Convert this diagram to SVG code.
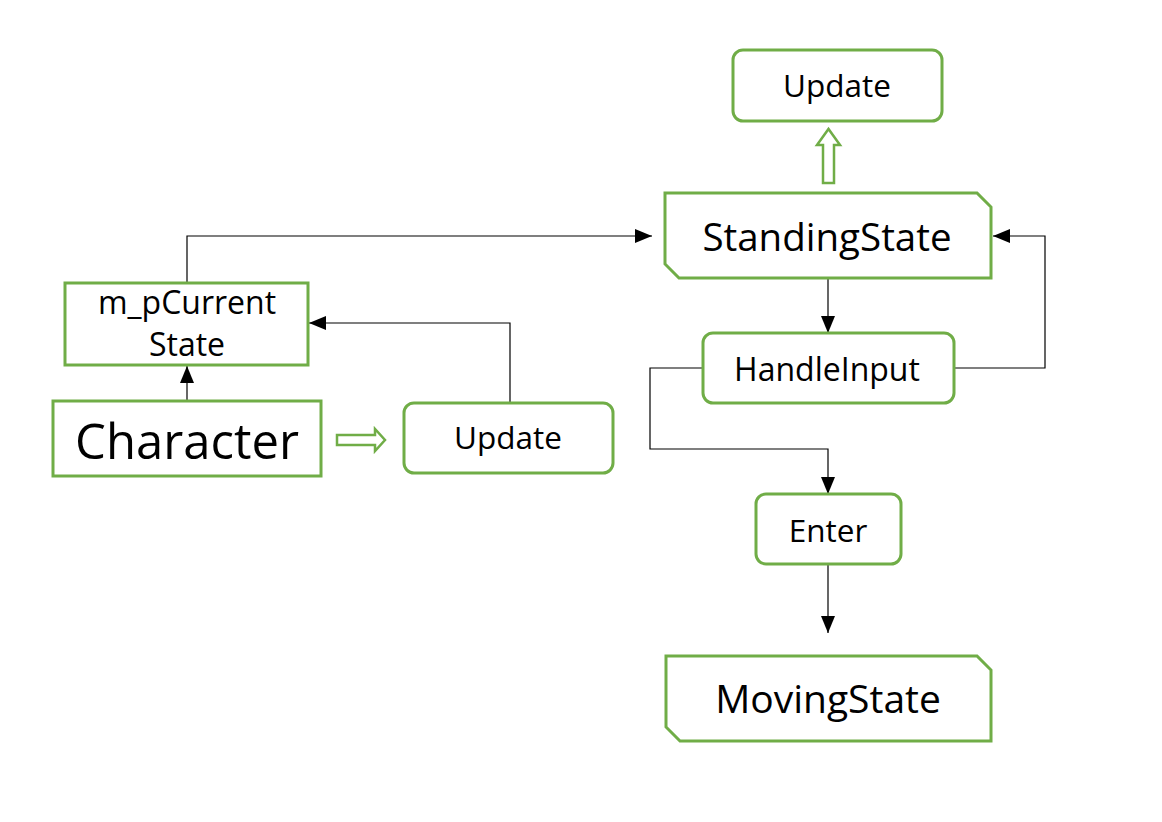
<svg xmlns="http://www.w3.org/2000/svg" width="1162" height="822" viewBox="0 0 1162 822">
<style>
.box{fill:#fff;stroke:#70AD47;stroke-width:3}
.t{font-family:"Open Sans","Noto Sans",sans-serif;fill:#000;text-anchor:middle}
.c{fill:none;stroke:#000;stroke-width:1.2}
.h{fill:#fff;stroke:#70AD47;stroke-width:2.5}
</style>
<defs>
<marker id="ah2" viewBox="0 0 17 14" refX="17" refY="7" markerWidth="17" markerHeight="14" markerUnits="userSpaceOnUse" orient="auto">
<path d="M0,0 L17,7 L0,14 z" fill="#000"/>
</marker>
</defs>
<rect width="1162" height="822" fill="#fff"/>
<g id="connectors">
<path class="c" d="M187,400 V366" marker-end="url(#ah2)"/>
<path class="c" d="M187,283 V236 H652" marker-end="url(#ah2)"/>
<path class="c" d="M510,403 V323 H309" marker-end="url(#ah2)"/>
<path class="c" d="M828,278 V333" marker-end="url(#ah2)"/>
<path class="c" d="M955,368 H1045 V236 H993" marker-end="url(#ah2)"/>
<path class="c" d="M703,368 H650 V449 H828 V494" marker-end="url(#ah2)"/>
<path class="c" d="M828,564 V633" marker-end="url(#ah2)"/>
<path class="h" d="M823,183 V145 H817 L828.5,129 L840,145 H834 V183 Z"/>
<path class="h" d="M337,435 H375 V429 L385,440 L375,451 V445 H337 Z"/>
</g>
<g id="update-top">
<rect class="box" x="733" y="50" width="209" height="71" rx="10"/>
<text class="t" x="837" y="97" font-size="31.5">Update</text>
</g>
<g id="standing-state">
<path class="box" d="M665,193 H977 L991,207 V278 H679 L665,264 Z"/>
<text class="t" x="827" y="251" font-size="38.5">StandingState</text>
</g>
<g id="m-pcurrent-state">
<rect class="box" x="65" y="283" width="243" height="82"/>
<text class="t" x="187" y="314" font-size="32">m_pCurrent</text>
<text class="t" x="187" y="356" font-size="32">State</text>
</g>
<g id="character">
<rect class="box" x="53" y="401" width="268" height="75"/>
<text class="t" x="187" y="459" font-size="49">Character</text>
</g>
<g id="update-mid">
<rect class="box" x="404" y="403" width="209" height="70" rx="10"/>
<text class="t" x="508" y="449" font-size="31.5">Update</text>
</g>
<g id="handle-input">
<rect class="box" x="703" y="333" width="251" height="70" rx="10"/>
<text class="t" x="827" y="381" font-size="32">HandleInput</text>
</g>
<g id="enter">
<rect class="box" x="756" y="494" width="145" height="70" rx="10"/>
<text class="t" x="828" y="542" font-size="31.5">Enter</text>
</g>
<g id="moving-state">
<path class="box" d="M666,656 H977 L991,670 V741 H680 L666,727 Z"/>
<text class="t" x="828" y="713" font-size="39">MovingState</text>
</g>
</svg>
